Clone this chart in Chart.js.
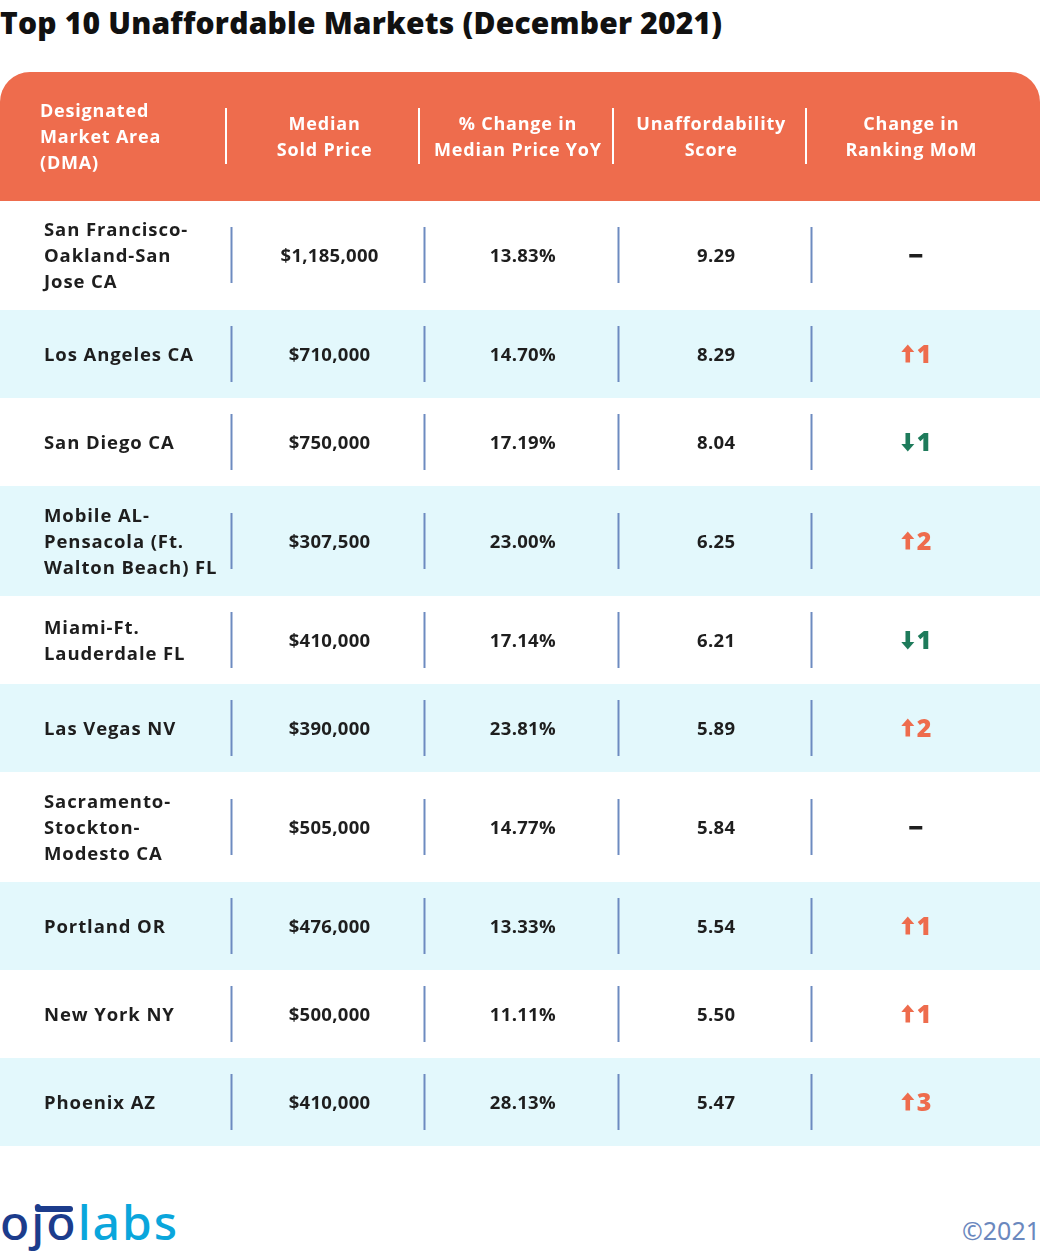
<!DOCTYPE html>
<html><head><meta charset="utf-8">
<script src="https://cdn.jsdelivr.net/npm/chart.js@4.4.1/dist/chart.umd.min.js"></script>
<style>
html,body{margin:0;padding:0;background:#fff;width:1040px;height:1255px;overflow:hidden;}
#title{position:absolute;left:0;top:3px;font:800 30px "Open Sans";color:#111;letter-spacing:0.2px;white-space:nowrap;line-height:40px;}
#wrap{position:absolute;left:0;top:72px;width:1040px;height:1074px;}
#logo{position:absolute;left:0;top:1192px;font:500 48px "Noto Sans";letter-spacing:2px;line-height:60px;}
#logo .o{color:#1c3c8c;}
#logo .l{color:#0aa6dc;}
#bar{position:absolute;left:35px;top:1206px;width:38px;height:6px;border-radius:3px;background:#1c3c8c;}
#copy{position:absolute;right:0;top:1212px;font:400 25px "Noto Sans";color:#6b88be;line-height:36px;}
</style></head>
<body>
<div id="title">Top 10 Unaffordable Markets (December 2021)</div>
<div id="wrap"><canvas id="c"></canvas></div>
<div id="logo"><span class="o">ojo</span><span class="l">labs</span></div>
<div id="bar"></div>
<div id="copy">©2021</div>
<script>
// ---- data ----
const headers = [['Designated','Market Area','(DMA)'],['Median','Sold Price'],['% Change in','Median Price YoY'],['Unaffordability','Score'],['Change in','Ranking MoM']];
const markets = [['San Francisco-','Oakland-San','Jose CA'],['Los Angeles CA'],['San Diego CA'],['Mobile AL-','Pensacola (Ft.','Walton Beach) FL'],['Miami-Ft.','Lauderdale FL'],['Las Vegas NV'],['Sacramento-','Stockton-','Modesto CA'],['Portland OR'],['New York NY'],['Phoenix AZ']];
const medianPrices = [1185000,710000,750000,307500,410000,390000,505000,476000,500000,410000];
const priceChangePct = [13.83,14.70,17.19,23.00,17.14,23.81,14.77,13.33,11.11,28.13];
const scores = [9.29,8.29,8.04,6.25,6.21,5.89,5.84,5.54,5.50,5.47];
const rankChanges = [0,1,-1,2,-1,2,0,1,1,3];

// ---- layout (row units / column units) ----
const headerWeight = 128/88;
const rowWeights = markets.map(m => m.length >= 3 ? 1.25 : 1);
const rowStarts = [];
let acc = 0;
rowWeights.forEach(w => { rowStarts.push(acc); acc += w; });
const totalRows = acc;
const colBounds = [0, 1.2, 2.2, 3.2, 4.2, 5.38];
const colCenters = [null, 1.705, 2.705, 3.705, 4.74];

const ORANGE = '#ee6c4d', GREEN = '#1e7b5b', BLUE_BG = '#e3f8fc', SEP = '#6d8bc0', TEXT = '#1e1e1e';
const FONT = '"Open Sans", sans-serif';

const fmtPrice = v => '$' + v.toLocaleString('en-US');
const fmtPct = v => v.toFixed(2) + '%';

const tablePlugin = {
  id: 'table',
  beforeDatasetsDraw(chart) {
    const ctx = chart.ctx, xs = chart.scales.x, ys = chart.scales.y;
    const W = chart.width;
    ctx.save();
    // header
    const hTop = ys.getPixelForValue(-headerWeight), hBot = ys.getPixelForValue(0);
    ctx.fillStyle = ORANGE;
    ctx.beginPath();
    ctx.roundRect(0, hTop, W, hBot - hTop + 1, [30, 30, 0, 0]);
    ctx.fill();
    const hMid = (hTop + hBot) / 2;
    ctx.fillStyle = '#fff';
    ctx.font = '700 18px ' + FONT;
    ctx.letterSpacing = '0.8px';
    ctx.textBaseline = 'middle';
    headers.forEach((lines, ci) => {
      const n = lines.length;
      lines.forEach((t, li) => {
        const y = hMid + 2 + (li - (n - 1) / 2) * 26;
        if (ci === 0) { ctx.textAlign = 'left'; ctx.fillText(t, 40, y); }
        else { ctx.textAlign = 'center'; ctx.fillText(t, xs.getPixelForValue(colCenters[ci]) - 5, y); }
      });
    });
    ctx.strokeStyle = '#fff'; ctx.lineWidth = 2;
    for (let c = 1; c <= 4; c++) {
      const x = Math.round(xs.getPixelForValue(colBounds[c])) - 6;
      ctx.beginPath(); ctx.moveTo(x, hMid - 28); ctx.lineTo(x, hMid + 28); ctx.stroke();
    }
    // rows
    markets.forEach((m, i) => {
      const top = ys.getPixelForValue(rowStarts[i]);
      const bot = ys.getPixelForValue(rowStarts[i] + rowWeights[i]);
      if (i % 2 === 1) { ctx.fillStyle = BLUE_BG; ctx.fillRect(0, top, W, bot - top); }
      const mid = (top + bot) / 2;
      ctx.strokeStyle = SEP; ctx.lineWidth = 2;
      for (let c = 1; c <= 4; c++) {
        const x = Math.round(xs.getPixelForValue(colBounds[c])) - 0.5;
        ctx.beginPath(); ctx.moveTo(x, mid - 28); ctx.lineTo(x, mid + 28); ctx.stroke();
      }
      const ty = mid + 2;
      ctx.fillStyle = TEXT;
      ctx.font = '700 18.5px ' + FONT;
      ctx.letterSpacing = '0.9px';
      ctx.textAlign = 'left';
      m.forEach((t, li) => ctx.fillText(t, 44, ty + (li - (m.length - 1) / 2) * 26));
      ctx.letterSpacing = '0.3px';
      ctx.textAlign = 'center';
      ctx.fillText(fmtPrice(medianPrices[i]), xs.getPixelForValue(colCenters[1]), ty);
      ctx.fillText(fmtPct(priceChangePct[i]), xs.getPixelForValue(colCenters[2]), ty);
      ctx.fillText(scores[i].toFixed(2), xs.getPixelForValue(colCenters[3]), ty);
      ctx.letterSpacing = '0px';
      // ranking change
      const cx = xs.getPixelForValue(colCenters[4]);
      const r = rankChanges[i];
      if (r === 0) {
        ctx.fillStyle = TEXT; ctx.fillRect(cx - 7, mid - 1, 13, 3.5);
      } else {
        const col = r > 0 ? ORANGE : GREEN;
        ctx.fillStyle = col;
        const ax = cx - 8.5, dir = r > 0 ? -1 : 1;
        const tipY = mid + dir * 9.5, baseY = mid + dir * 2;
        ctx.beginPath();
        ctx.moveTo(ax, tipY); ctx.lineTo(ax + 6.5, baseY); ctx.lineTo(ax - 6.5, baseY); ctx.closePath(); ctx.fill();
        const sTop = dir < 0 ? baseY - 0.5 : mid - 9;
        ctx.fillRect(ax - 2.3, sTop, 4.6, 11);
        ctx.font = '800 25px ' + FONT;
        ctx.textAlign = 'left';
        ctx.fillText(Math.abs(r), cx + 0.5, mid + 1.5);
      }
    });
    ctx.restore();
  }
};

new Chart(document.getElementById('c'), {
  type: 'scatter',
  data: { datasets: [{ label: 'rows', data: scores.map((s, i) => ({ x: colCenters[3], y: rowStarts[i] + rowWeights[i] / 2 })), pointRadius: 0, pointHoverRadius: 0 }] },
  options: {
    responsive: true, maintainAspectRatio: false, animation: false,
    events: [],
    layout: { padding: 0 },
    plugins: { legend: { display: false }, tooltip: { enabled: false } },
    scales: {
      x: { type: 'linear', display: false, min: colBounds[0], max: colBounds[colBounds.length - 1] },
      y: { type: 'linear', display: false, reverse: true, min: -headerWeight, max: totalRows }
    }
  },
  plugins: [tablePlugin]
});
</script>
</body></html>
